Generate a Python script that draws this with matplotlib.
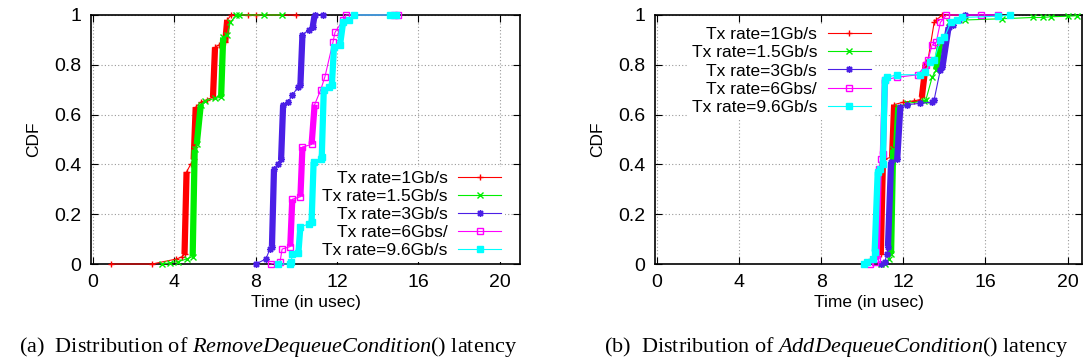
import matplotlib
matplotlib.use('Agg')
import matplotlib.pyplot as plt

plt.rcParams['font.family'] = ['Liberation Sans', 'DejaVu Sans']
plt.rcParams['mathtext.fontset'] = 'custom'
plt.rcParams['mathtext.rm'] = 'Liberation Serif'
plt.rcParams['mathtext.it'] = 'Liberation Serif:italic'

labels = ['Tx rate=1Gb/s', 'Tx rate=1.5Gb/s', 'Tx rate=3Gb/s', 'Tx rate=6Gbs/', 'Tx rate=9.6Gb/s']
colors = ['#ff0000', '#00ee00', '#4b1fe6', '#ff00ff', '#00ffff']
markers = ['+', 'x', (8, 2, 0), 's', 's']
xticks = [0, 4, 8, 12, 16, 20]
yticks = [0, 0.2, 0.4, 0.6, 0.8, 1]
ytick_labels = ['0', '0.2', '0.4', '0.6', '0.8', '1']

# (a) RemoveDequeueCondition latency CDF (breakpoints)
rm_red_x = [0.9, 2.9, 4.1, 4.4, 4.5, 4.6, 4.8, 4.95, 5.05, 5.3, 5.6, 5.9, 6.0, 6.2, 6.5, 6.6, 6.8, 7.6, 8.0, 10.0]
rm_red_y = [0, 0, 0.02, 0.03, 0.04, 0.37, 0.40, 0.42, 0.63, 0.65, 0.66, 0.67, 0.87, 0.88, 0.89, 0.98, 1.0, 1.0, 1.0, 1.0]
rm_green_x = [3.4, 3.8, 4.2, 4.6, 4.9, 5.0, 5.1, 5.3, 5.5, 6.0, 6.3, 6.4, 6.6, 6.75, 7.05, 7.2, 8.4, 9.3]
rm_green_y = [0.0, 0.005, 0.01, 0.02, 0.03, 0.46, 0.48, 0.64, 0.655, 0.665, 0.67, 0.91, 0.92, 0.97, 1.0, 1.0, 1.0, 1.0]
rm_blue_x = [8.0, 8.5, 8.7, 8.8, 8.9, 9.1, 9.25, 9.35, 9.6, 9.8, 10.1, 10.2, 10.3, 10.6, 10.8, 10.9, 11.3]
rm_blue_y = [0.0, 0.02, 0.06, 0.07, 0.38, 0.40, 0.42, 0.64, 0.65, 0.68, 0.71, 0.72, 0.92, 0.94, 0.95, 1.0, 1.0]
rm_mag_x = [8.75, 9.2, 9.3, 9.7, 9.8, 10.2, 10.3, 10.75, 10.9, 11.2, 11.4, 11.8, 11.9, 12.3, 12.45, 14.8, 15.0]
rm_mag_y = [0.0, 0.01, 0.06, 0.07, 0.26, 0.27, 0.47, 0.48, 0.64, 0.70, 0.75, 0.89, 0.93, 0.98, 1.0, 1.0, 1.0]
rm_cyan_x = [9.1, 9.7, 9.75, 9.8, 10.1, 10.2, 10.6, 10.75, 10.85, 11.2, 11.25, 11.35, 11.6, 11.75, 11.85, 12.15, 12.3, 12.6, 12.85, 14.6, 14.9]
rm_cyan_y = [0.0, 0.0, 0.01, 0.04, 0.045, 0.15, 0.16, 0.17, 0.41, 0.42, 0.43, 0.70, 0.71, 0.72, 0.87, 0.88, 0.97, 0.98, 1.0, 1.0, 1.0]

# (b) AddDequeueCondition latency CDF
add_red_x = [10.4, 10.5, 10.9, 11.0, 11.05, 11.45, 11.55, 12.0, 12.5, 12.8, 12.9, 13.1, 13.2, 13.5, 13.6, 13.9, 15.0, 16.5]
add_red_y = [0.02, 0.03, 0.04, 0.40, 0.42, 0.43, 0.64, 0.65, 0.655, 0.66, 0.67, 0.81, 0.82, 0.97, 0.98, 1.0, 1.0, 1.0]
add_green_x = [10.9, 11.1, 11.3, 11.4, 11.5, 11.65, 11.75, 12.2, 13.0, 13.1, 13.4, 13.6, 13.8, 14.0, 14.2, 15.0, 16.8, 18.3, 18.8, 19.2, 20.0, 20.45]
add_green_y = [0.0, 0.0, 0.02, 0.04, 0.46, 0.47, 0.63, 0.645, 0.655, 0.66, 0.75, 0.78, 0.89, 0.90, 0.97, 0.98, 0.985, 0.99, 0.99, 0.993, 0.995, 0.997]
add_blue_x = [10.9, 11.1, 11.2, 11.25, 11.4, 11.7, 11.85, 12.2, 12.8, 13.4, 13.5, 13.8, 13.9, 14.2, 14.4, 14.7, 15.0, 16.6]
add_blue_y = [0.0, 0.01, 0.04, 0.07, 0.41, 0.42, 0.63, 0.64, 0.645, 0.65, 0.66, 0.78, 0.79, 0.95, 0.96, 0.98, 1.0, 1.0]
add_mag_x = [10.35, 10.6, 10.7, 10.8, 10.9, 11.0, 11.1, 11.7, 12.7, 13.1, 13.2, 13.4, 13.6, 13.8, 14.1, 15.8, 16.6]
add_mag_y = [0.0, 0.01, 0.02, 0.38, 0.42, 0.44, 0.74, 0.75, 0.76, 0.80, 0.82, 0.88, 0.89, 0.97, 1.0, 1.0, 1.0]
add_cyan_x = [10.1, 10.25, 10.5, 10.6, 10.75, 10.85, 11.0, 11.1, 11.2, 11.7, 12.8, 13.05, 13.3, 13.5, 13.8, 14.0, 14.3, 14.6, 14.85, 16.6, 17.2]
add_cyan_y = [0.0, 0.01, 0.02, 0.05, 0.37, 0.38, 0.40, 0.74, 0.75, 0.76, 0.76, 0.77, 0.81, 0.82, 0.90, 0.91, 0.97, 0.98, 0.99, 0.995, 1.0]

remove_series = [(rm_red_x, rm_red_y), (rm_green_x, rm_green_y), (rm_blue_x, rm_blue_y),
                 (rm_mag_x, rm_mag_y), (rm_cyan_x, rm_cyan_y)]
add_series = [(add_red_x, add_red_y), (add_green_x, add_green_y), (add_blue_x, add_blue_y),
              (add_mag_x, add_mag_y), (add_cyan_x, add_cyan_y)]


def draw_cdf(ax, series):
    handles = []
    for i, (xs, ys) in enumerate(series):
        c = colors[i]
        mfc = 'none' if i == 3 else c
        h, = ax.plot(xs, ys, color=c, lw=0.8, marker=markers[i], ms=5, mew=1,
                     mfc=mfc, mec=c, label=labels[i], zorder=3 + i, clip_on=False)
        # dense runs of samples show up as thick vertical bands
        for k in range(len(xs) - 1):
            dx = xs[k + 1] - xs[k]
            dy = ys[k + 1] - ys[k]
            if dy > 0.04 and dy > 0.5 * dx:
                ax.plot(xs[k:k + 2], ys[k:k + 2], color=c, lw=4.5,
                        solid_capstyle='butt', zorder=3 + i)
        handles.append(h)
    return handles


def style_axes(ax, xmax):
    ax.set_xlim(-0.1, xmax)
    ax.set_ylim(0, 1)
    ax.set_xticks(xticks)
    ax.set_yticks(yticks)
    ax.set_yticklabels(ytick_labels)
    ax.tick_params(direction='in', length=5, top=True, right=True, labelsize=14, pad=7)
    ax.grid(True, color='#999999', linestyle=(0, (1, 2)), lw=0.8)
    ax.set_axisbelow(True)
    for s in ax.spines.values():
        s.set_linewidth(1.2)
    ax.set_xlabel('Time (in usec)', fontsize=12.5, labelpad=3)
    ax.set_ylabel('CDF', fontsize=12.5, labelpad=9)


fig = plt.figure(figsize=(10.86, 3.64), dpi=100)
ax1 = fig.add_axes([0.0838, 0.2747, 0.3950, 0.6841])
ax2 = fig.add_axes([0.6031, 0.2747, 0.3932, 0.6841])

leg_kw = dict(markerfirst=False, fontsize=12.5, handlelength=2.5, handletextpad=0.6,
              labelspacing=0.17, borderpad=0.2, borderaxespad=0, fancybox=False,
              framealpha=1, edgecolor='none')

h1 = draw_cdf(ax1, remove_series)
style_axes(ax1, 21)
ax1.legend(handles=h1, loc='lower right', bbox_to_anchor=(0.965, 0.01), **leg_kw)

h2 = draw_cdf(ax2, add_series)
style_axes(ax2, 20.7)
ax2.legend(handles=h2, loc='upper left', bbox_to_anchor=(0.078, 0.965), **leg_kw)

fig.text(268 / 1086, 0.047, r'(a)  Distribution of $\mathit{RemoveDequeueCondition}$() latency',
         family='Liberation Serif', fontsize=16, ha='center', va='center')
fig.text(836 / 1086, 0.047, r'(b)  Distribution of $\mathit{AddDequeueCondition}$() latency',
         family='Liberation Serif', fontsize=16, ha='center', va='center')

fig.savefig('out.png', dpi=100)
